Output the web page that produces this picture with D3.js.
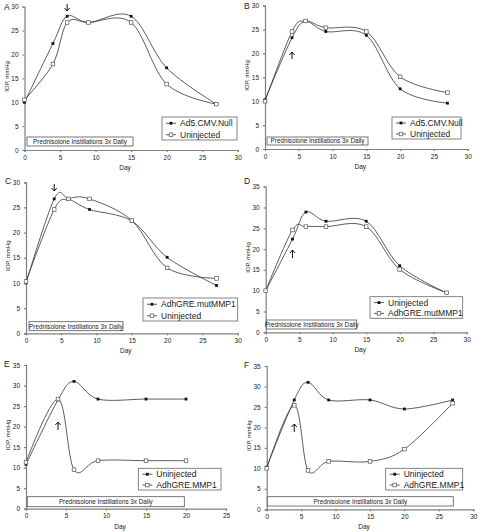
<!DOCTYPE html>
<html><head><meta charset="utf-8">
<script src="https://cdn.jsdelivr.net/npm/d3@7"></script>
<style>body{margin:0;background:#fff}svg{display:block}</style>
</head><body>
<svg id="c" width="480" height="532"></svg>
<script>
// ---- data ----
const daysA = [0,4,6,9,15,20,27];
const A_filled = [10,22.3,28,26.7,28,17.2,9.6];
const A_open   = [10.5,18,26.7,26.7,26.7,13.8,9.6];
const B_filled = [10.3,23.3,26.7,24.6,23.8,12.6,9.6];
const B_open   = [10,24.6,26.8,25.4,24.6,15.1,11.8];
const C_filled = [10,26.7,26.7,24.6,22.3,15.1,9.5];
const C_open   = [10.3,24.6,26.7,26.7,22.4,13,10.9];
const D_filled = [10,22.4,28.9,26.7,26.7,16,9.5];
const D_open   = [10,24.6,25.4,25.4,25.4,15.1,9.5];
const daysE = [0,4,6,9,15,20];
const E_filled = [10.8,26.5,31,26.7,26.7,26.7];
const E_open   = [11.3,26.7,9.5,11.7,11.7,11.7];
const F_filled = [10.3,26.7,31,26.7,26.7,24.5,26.7];
const F_open   = [10,25.4,9.5,11.7,11.7,14.7,25.9];
const ticks30 = [0,5,10,15,20,25,30];
const ticks35 = [0,5,10,15,20,25,30,35];
const ticksX25 = [0,5,10,15,20,25];
const predText = "Prednisolone Instillations 3x Daily";

// ---- panels (layout) ----
const panels = [
 {lab:"A", days:daysA, f:A_filled, o:A_open, names:["Ad5.CMV.Null","Uninjected"], xt:ticks30, yt:ticks30,
  x0:24.5,x1:237.7,yT:6.7,yB:150, leg:[162,117,237,140], pred:[27,137,133,146], arrow:{d:6,y1:4,y2:11,dir:"down"}, lx:4, ly:10},
 {lab:"B", days:daysA, f:B_filled, o:B_open, names:["Ad5.CMV.Null","Uninjected"], xt:ticks30, yt:ticks30,
  x0:265,x1:467.7,yT:5.7,yB:149, leg:[392,117,461,139], pred:[267,137,368,145], arrow:{d:4,y1:52,y2:59,dir:"up"}, lx:244, ly:9},
 {lab:"C", days:daysA, f:C_filled, o:C_open, names:["AdhGRE.mutMMP1","Uninjected"], xt:ticks30, yt:ticks30,
  x0:26,x1:237.7,yT:182.3,yB:333.3, leg:[143,298,237.7,321], pred:[29,321.7,123,330.7], arrow:{d:4,y1:184,y2:191,dir:"down"}, lx:5, ly:184},
 {lab:"D", days:daysA, f:D_filled, o:D_open, names:["Uninjected","AdhGRE.mutMMP1"], xt:ticks30, yt:ticks35,
  x0:265.7,x1:466.7,yT:186.7,yB:332.3, leg:[370,296.7,462.7,318.3], pred:[266.7,320,356.7,329], arrow:{d:4,y1:250,y2:258,dir:"up"}, lx:244, ly:184},
 {lab:"E", days:daysE, f:E_filled, o:E_open, names:["Uninjected","AdhGRE.MMP1"], xt:ticksX25, yt:ticks35,
  x0:26,x1:226,yT:365,yB:508.7, leg:[138.3,468.3,221,490], pred:[27.3,496.7,184.3,506.7], arrow:{d:4,y1:422,y2:430,dir:"up"}, lx:4, ly:367},
 {lab:"F", days:daysA, f:F_filled, o:F_open, names:["Uninjected","AdhGRE.MMP1"], xt:ticks30, yt:ticks35,
  x0:266.7,x1:473.3,yT:366,yB:509.3, leg:[385.7,468.3,462.7,490], pred:[267.3,496.7,453.3,506], arrow:{d:4,y1:424,y2:432,dir:"up"}, lx:244, ly:368}
];

const svg = d3.select("#c");
const font = "Liberation Sans, Arial, sans-serif";
const ink = "#222", axc = "#808080";

panels.forEach(p => {
  const g = svg.append("g");
  const xs = d3.scaleLinear().domain([0, d3.max(p.xt)]).range([p.x0, p.x1]);
  const ys = d3.scaleLinear().domain([0, d3.max(p.yt)]).range([p.yB, p.yT]);

  // axes
  const xa = g.append("g").attr("transform",`translate(0,${p.yB})`)
    .call(d3.axisBottom(xs).tickValues(p.xt).tickSize(2).tickPadding(3));
  const ya = g.append("g").attr("transform",`translate(${p.x0},0)`)
    .call(d3.axisLeft(ys).tickValues(p.yt).tickSize(2).tickPadding(4));
  [xa,ya].forEach(a=>{
    a.selectAll("path,line").attr("stroke",axc).attr("stroke-width",1.2);
    a.selectAll("text").attr("fill",ink).attr("font-family",font).attr("font-size",6.5);
  });

  // axis titles
  g.append("text").attr("x",(p.x0+p.x1)/2 - 6).attr("y",p.yB+20).attr("text-anchor","middle")
    .attr("font-family",font).attr("font-size",6.5).attr("fill",ink).text("Day");
  g.append("text").attr("transform",`translate(${p.x0-16},${(p.yT+p.yB)/2 - 2}) rotate(-90)`)
    .attr("text-anchor","middle").attr("font-family",font).attr("font-size",6).attr("fill",ink).text("IOP, mmHg");

  // panel letter
  g.append("text").attr("x",p.lx).attr("y",p.ly).attr("font-family",font).attr("font-size",8.5)
    .attr("fill",ink).text(p.lab);

  // prednisolone box
  const [bx0,by0,bx1,by1] = p.pred;
  g.append("rect").attr("x",bx0).attr("y",by0).attr("width",bx1-bx0).attr("height",by1-by0)
    .attr("fill","#fff").attr("stroke","#555").attr("stroke-width",0.8);
  g.append("text").attr("x",(bx0+bx1)/2).attr("y",(by0+by1)/2+2.3).attr("text-anchor","middle")
    .attr("font-family",font).attr("font-size",6.3).attr("fill",ink).text(predText);

  // lines
  const line = d3.line().x(d=>xs(d[0])).y(d=>ys(d[1])).curve(d3.curveCardinal.tension(0));
  const series = [{v:p.f, filled:true},{v:p.o, filled:false}];
  series.forEach(s=>{
    const pts = p.days.map((d,i)=>[d,s.v[i]]);
    g.append("path").attr("d",line(pts)).attr("fill","none").attr("stroke","#333").attr("stroke-width",0.8);
  });
  series.forEach(s=>{
    const pts = p.days.map((d,i)=>[d,s.v[i]]);
    drawMarkers(g, pts.map(q=>[xs(q[0]),ys(q[1])]), s.filled);
  });

  // arrow
  const ax = xs(p.arrow.d);
  const a = p.arrow;
  g.append("line").attr("x1",ax).attr("x2",ax).attr("y1",a.y1).attr("y2",a.y2).attr("stroke","#111").attr("stroke-width",1);
  const tip = a.dir==="down" ? a.y2 : a.y1, sgn = a.dir==="down" ? -1 : 1;
  g.append("path").attr("d",`M${ax-2.6},${tip+sgn*3}L${ax},${tip}L${ax+2.6},${tip+sgn*3}`)
    .attr("fill","none").attr("stroke","#111").attr("stroke-width",1);

  // legend
  const [lx0,ly0,lx1,ly1] = p.leg;
  g.append("rect").attr("x",lx0).attr("y",ly0).attr("width",lx1-lx0).attr("height",ly1-ly0)
    .attr("fill","#fff").attr("stroke","#666").attr("stroke-width",0.8);
  const rowH = (ly1-ly0)/2;
  p.names.forEach((nm,i)=>{
    const cy = ly0 + rowH*(i+0.5) + 0.5;
    g.append("line").attr("x1",lx0+4).attr("x2",lx0+14).attr("y1",cy).attr("y2",cy).attr("stroke","#333").attr("stroke-width",0.8);
    drawMarkers(g, [[lx0+9,cy]], i===0);
    g.append("text").attr("x",lx0+18).attr("y",cy+3).attr("font-family",font).attr("font-size",8.5)
      .attr("fill",ink).text(nm);
  });
});

function drawMarkers(g, pts, filled){
  if (filled) {
    g.selectAll(null).data(pts).enter().append("rect")
      .attr("x",d=>d[0]-1.4).attr("y",d=>d[1]-1.4).attr("width",2.8).attr("height",2.8)
      .attr("fill","#111");
  } else {
    g.selectAll(null).data(pts).enter().append("rect")
      .attr("x",d=>d[0]-1.8).attr("y",d=>d[1]-1.8).attr("width",3.6).attr("height",3.6)
      .attr("fill","#fff").attr("stroke","#555").attr("stroke-width",0.7);
  }
}
</script>
</body></html>
